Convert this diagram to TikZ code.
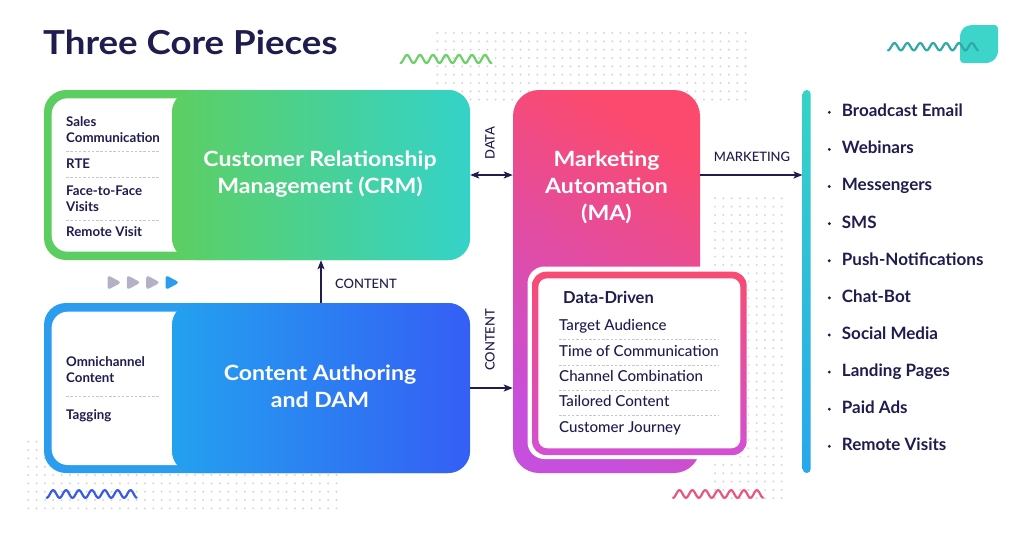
\documentclass[tikz,border=0pt]{standalone}
\usepackage{fontspec}
\setmainfont{Lato}
\IfFontExistsTF{Lato Medium}{\newfontfamily\medfont{Lato Medium}}{\newfontfamily\medfont{Lato}}
\newfontfamily\widefont{Lato}[FakeStretch=1.1]
\newfontfamily\titlefont{Lato}[FakeStretch=1.11]
\usetikzlibrary{arrows.meta}
\definecolor{navy}{HTML}{1F1C4E}
\definecolor{dotgray}{HTML}{D4D4DC}
\definecolor{sepgray}{HTML}{C6C6D0}
\definecolor{crmFrame}{HTML}{5CCD60}
\definecolor{crmL}{HTML}{5DCF62}
\definecolor{crmR}{HTML}{34D3C9}
\definecolor{conFrame}{HTML}{2A9DEF}
\definecolor{conL}{HTML}{23A1EF}
\definecolor{conR}{HTML}{355EF5}
\definecolor{maTop}{HTML}{FB4A6D}
\definecolor{maBot}{HTML}{C64FDC}
\definecolor{ddTop}{HTML}{F94B72}
\definecolor{ddBot}{HTML}{D34FD4}
\definecolor{barTop}{HTML}{35D4C6}
\definecolor{barBot}{HTML}{28A6EE}
\definecolor{wGreen}{HTML}{6DD06A}
\definecolor{wTeal}{HTML}{2EA9A7}
\definecolor{blobTeal}{HTML}{3DD5C9}
\definecolor{wBlue}{HTML}{3A5BE3}
\definecolor{wPink}{HTML}{E8577D}
\definecolor{playGray}{HTML}{B3B1C5}
\definecolor{playBlue}{HTML}{2A9DF0}
\begin{document}
\begin{tikzpicture}[x=1pt,y=-1pt,
  block/.style={rectangle, rounded corners=22pt, minimum width=298pt, minimum height=170pt, inner sep=0pt},
  blocktitle/.style={align=center, text=white, inner sep=0pt, font=\fontsize{21}{26.7}\selectfont\widefont\bfseries},
  crmblock/.style={block, left color=crmL, right color=crmR},
  conblock/.style={block, left color=conL, right color=conR},
  mabox/.style={rectangle, rounded corners=26pt, minimum width=187pt, minimum height=383pt, inner sep=0pt, top color=maTop, middle color=maTop!90!maBot, bottom color=maBot, shading angle=-30},
  ddbox/.style={rectangle, rounded corners=14pt, minimum width=214.7pt, minimum height=183.3pt, inner sep=0pt, top color=ddTop, bottom color=ddBot},
  barbox/.style={rectangle, rounded corners=4pt, minimum width=8pt, minimum height=383pt, inner sep=0pt, top color=barTop, bottom color=barBot},
  panelitem/.style={anchor=base west, align=left, inner sep=0pt, text=navy, font=\fontsize{13.3}{16}\selectfont\bfseries},
  listitem/.style={anchor=base west, inner sep=0pt, text=navy, font=\fontsize{17}{17}\selectfont\bfseries},
  dditem/.style={anchor=base west, inner sep=0pt, text=navy, font=\fontsize{15.1}{15.1}\selectfont\medfont},
  lbl/.style={inner sep=0pt, text=navy, font=\fontsize{13}{13}\selectfont\medfont},
  sep/.style={draw=sepgray, line width=0.7pt, dash pattern=on 2.5pt off 1.8pt},
  arr/.style={draw=navy, line width=1.5pt, -{Stealth[length=9pt,width=7pt,inset=2pt]}},
  darr/.style={draw=navy, line width=1.5pt, {Stealth[length=9pt,width=7pt,inset=2pt]}-{Stealth[length=9pt,width=7pt,inset=2pt]}},
  wave/.style={line width=2.2pt, line cap=round, line join=round}
]
\useasboundingbox (0,0) rectangle (1024,536);
\fill[white] (0,0) rectangle (1024,536);

% dot grids
\foreach \i in {0,...,37} {\foreach \j in {0,...,8} {\fill[dotgray] ({437.3+8.33*\i},{33+8.33*\j}) circle (1.1pt);}}
\foreach \i in {0,...,37} {\foreach \j in {0,...,8} {\fill[dotgray] ({28.3+8.33*\i},{441.7+8.33*\j}) circle (1.1pt);}}
\foreach \i in {0,...,8} {\foreach \j in {0,...,36} {\fill[dotgray] ({715+8.33*\i},{198.3+8.33*\j}) circle (1.1pt);}}

% waves and blob
\draw[wave, wGreen] plot[domain=0:91, samples=160] ({400.5+\x},{59+4*cos(27.692*\x)});
\fill[blobTeal] (960,59) -- (960,38) .. controls (960,29) and (965,25) .. (974,25) -- (994,25) .. controls (997,25) and (998,26) .. (998,29) -- (998,50) .. controls (998,58) and (993,63) .. (985,63) -- (964,63) .. controls (961,63) and (960,62) .. (960,59) -- cycle;
\draw[wave, wTeal] plot[domain=0:90, samples=160] ({888+\x},{46.7+3.6*cos(27.907*\x)});
\draw[wave, wBlue] plot[domain=0:90, samples=160] ({46.7+\x},{494+3.8*cos(27.907*\x)});
\draw[wave, wPink] plot[domain=0:90, samples=160] ({673+\x},{494+3.8*cos(27.907*\x)});

% title
\node[anchor=base west, inner sep=0pt, text=navy, font=\fontsize{33}{33}\selectfont\titlefont\bfseries] (title) at (43,54) {Three Core Pieces};

% CRM
\fill[crmFrame, rounded corners=22pt] (44,90) rectangle (470,260);
\fill[white, rounded corners=16pt] (51.7,98.3) rectangle (200,251.7);
\node[crmblock] (crm) at (321,175) {};
\node[blocktitle] (crmtitle) at (320,174) {Customer Relationship\\Management (CRM)};
\node[panelitem] (c1) at (66,142) {Sales\\Communication};
\node[panelitem] (c2) at (66,168.3) {RTE};
\node[panelitem] (c3) at (66,211) {Face-to-Face\\Visits};
\node[panelitem] (c4) at (66,236.7) {Remote Visit};
\draw[sep] (66,151.7) -- (160,151.7);
\draw[sep] (66,177.7) -- (160,177.7);
\draw[sep] (66,220) -- (160,220);

% Content
\fill[conFrame, rounded corners=22pt] (44,303) rectangle (470,473);
\fill[white, rounded corners=16pt] (51.7,311.7) rectangle (200,465);
\node[conblock] (con) at (321,388) {};
\node[blocktitle] (contitle) at (320,386) {Content Authoring\\and DAM};
\node[panelitem] (o1) at (66,382) {Omnichannel\\Content};
\node[panelitem] (o2) at (66,419) {Tagging};
\draw[sep] (66,396.7) -- (160,396.7);

% play icons
\foreach \px/\c in {107.5/playGray,126.8/playGray,146.2/playGray,165.5/playBlue}
  \fill[\c, rounded corners=3.2pt] (\px,275) -- ({\px+14},282.5) -- (\px,290) -- cycle;

% MA
\node[mabox] (ma) at (606.5,281.5) {};
\node[blocktitle, font=\fontsize{21}{27}\selectfont\widefont\bfseries] (matitle) at (606.5,187) {Marketing\\Automation\\(MA)};
\fill[white, rounded corners=17pt] (527.5,266.5) rectangle (748,459);
\node[ddbox] (dd) at (639.35,363.35) {};
\fill[white, rounded corners=9pt] (538.3,278.3) rectangle (740.3,448.3);
\node[anchor=base west, inner sep=0pt, text=navy, font=\fontsize{16.5}{16.5}\selectfont\bfseries] (ddhead) at (563,303) {Data-Driven};
\node[dditem] (d1) at (559,330) {Target Audience};
\node[dditem] (d2) at (559,356.7) {Time of Communication};
\node[dditem] (d3) at (559,381.7) {Channel Combination};
\node[dditem] (d4) at (559,406.7) {Tailored Content};
\node[dditem] (d5) at (559,432.3) {Customer Journey};
\foreach \y in {339.3,365,390,415} \draw[sep] (559,\y) -- (719,\y);

% bar and list
\node[barbox] (bar) at (806.7,281.5) {};
\foreach \t [count=\k from 0] in {Broadcast Email,Webinars,Messengers,SMS,Push-Notifications,Chat-Bot,Social Media,Landing Pages,Paid Ads,Remote Visits} {
  \node[listitem] (l\k) at (841.7,{116.7+37.11*\k}) {\t};
  \fill[navy] (829.3,{112.3+37.11*\k}) circle (1.6pt);
}

% connectors
\draw[darr] (crm.east) -- (crm.east -| ma.west);
\draw[arr] (con.north) -- (crm.south);
\draw[arr] (con.east) -- (con.east -| ma.west);
\draw[arr] (ma.east |- crm.east) -- (bar.west |- crm.east);
\node[lbl, rotate=90] (datalbl) at (490,143) {DATA};
\node[lbl, rotate=90] (contlbl2) at (490,340) {CONTENT};
\node[lbl] (contlbl) at (366,284) {CONTENT};
\node[lbl] (mktlbl) at (752,157) {MARKETING};
\end{tikzpicture}
\end{document}
